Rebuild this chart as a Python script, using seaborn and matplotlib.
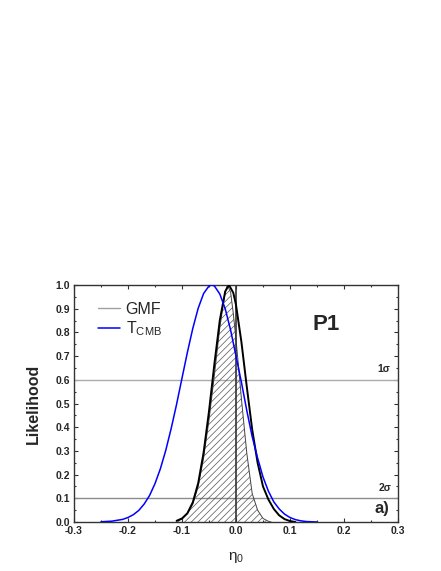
import matplotlib
matplotlib.use("Agg")
import matplotlib.pyplot as plt
from matplotlib.lines import Line2D
from matplotlib.ticker import MultipleLocator
import seaborn as sns
import pandas as pd

# curva GMF (area hachurada)
gmf_x = [-0.11, -0.10, -0.09, -0.08, -0.07, -0.06, -0.05, -0.04, -0.03, -0.02, -0.016,
         -0.01, -0.005, 0.0, 0.007, 0.01, 0.02, 0.03, 0.04, 0.05, 0.06, 0.065]
gmf_y = [0.004, 0.012, 0.035, 0.075, 0.15, 0.27, 0.43, 0.62, 0.82, 0.97, 1.0,
         0.97, 0.88, 0.77, 0.60, 0.52, 0.29, 0.12, 0.05, 0.015, 0.003, 0.0]

# curva preta
blk_x = [-0.11, -0.10, -0.09, -0.08, -0.07, -0.06, -0.05, -0.04, -0.03, -0.02, -0.013,
         -0.005, 0.0, 0.01, 0.02, 0.03, 0.04, 0.05, 0.06, 0.07, 0.08, 0.09, 0.10, 0.11]
blk_y = [0.005, 0.015, 0.037, 0.083, 0.164, 0.293, 0.467, 0.667, 0.851, 0.973, 1.0,
         0.967, 0.916, 0.76, 0.57, 0.39, 0.25, 0.15, 0.095, 0.055, 0.028, 0.012, 0.004, 0.0]

# curva T_CMB
tcmb_x = [-0.25, -0.23, -0.21, -0.20, -0.19, -0.18, -0.17, -0.16, -0.15, -0.14, -0.13,
          -0.12, -0.11, -0.10, -0.09, -0.08, -0.07, -0.06, -0.05, -0.045, -0.04, -0.03,
          -0.02, -0.01, 0.0, 0.01, 0.02, 0.03, 0.04, 0.05, 0.06, 0.07, 0.08, 0.09, 0.10,
          0.11, 0.12, 0.13, 0.14, 0.15]
tcmb_y = [0.001, 0.0035, 0.011, 0.019, 0.031, 0.049, 0.076, 0.112, 0.162, 0.225, 0.303,
          0.395, 0.497, 0.607, 0.716, 0.817, 0.902, 0.964, 0.996, 1.0, 0.996, 0.962,
          0.90, 0.81, 0.70, 0.59, 0.47, 0.36, 0.27, 0.19, 0.13, 0.085, 0.055, 0.033, 0.019,
          0.010, 0.005, 0.002, 0.001, 0.0]

niveis = [0.6, 0.1]
niveis_cor = ["#ababab", "#8c8c8c"]
niveis_txt = ["1σ", "2σ"]
x_ticks = [-0.3, -0.2, -0.1, 0.0, 0.1, 0.2, 0.3]
y_ticks = [0.0, 0.1, 0.2, 0.3, 0.4, 0.5, 0.6, 0.7, 0.8, 0.9, 1.0]

sns.set_theme(style="ticks")
plt.rcParams["font.family"] = ["Liberation Sans", "DejaVu Sans"]
plt.rcParams["axes.unicode_minus"] = False
plt.rcParams["hatch.linewidth"] = 0.5
plt.rcParams["hatch.color"] = "#555555"

fig = plt.figure(figsize=(4.41, 5.71), dpi=100)
ax = fig.add_axes([74 / 441, 49 / 571, 324 / 441, 237 / 571])

# niveis de confianca
for nv, cor in zip(niveis, niveis_cor):
    ax.axhline(nv, color=cor, lw=1.0, zorder=1)

# area hachurada GMF
ax.fill_between(gmf_x, gmf_y, 0, facecolor="none", edgecolor="#555555",
                hatch="/////", lw=0, zorder=2)
sns.lineplot(x=gmf_x, y=gmf_y, ax=ax, color="#444444", lw=0.7, sort=False, zorder=3)

# linha vertical em zero
ax.plot([0.0, 0.0], [0.0, 1.0], color="#333333", lw=1.2, zorder=3)

sns.lineplot(x=blk_x, y=blk_y, ax=ax, color="black", lw=1.4, sort=False, zorder=4)
sns.lineplot(x=tcmb_x, y=tcmb_y, ax=ax, color="#0000ff", lw=1.1, sort=False, zorder=5)

ax.set_xlim(-0.3, 0.3)
ax.set_ylim(0.0, 1.0)
ax.set_xticks(x_ticks)
ax.set_yticks(y_ticks)
ax.set_xticklabels([f"{t:.1f}" for t in x_ticks])
ax.set_yticklabels([f"{t:.1f}" for t in y_ticks])
ax.xaxis.set_minor_locator(MultipleLocator(0.05))
ax.yaxis.set_minor_locator(MultipleLocator(0.05))
ax.tick_params(which="both", direction="in", top=True, right=True, color="#333333", width=0.8)
ax.tick_params(which="major", length=3, labelsize=7.5, pad=3)
ax.tick_params(which="minor", length=1.6)
for lab in ax.get_xticklabels() + ax.get_yticklabels():
    lab.set_fontweight("bold")
for sp in ax.spines.values():
    sp.set_color("#333333")
    sp.set_linewidth(1.0)

ax.set_ylabel("Likelihood", fontsize=11.5, fontweight="bold", labelpad=10)
ax.set_xlabel(r"$\mathregular{η_0}$", fontsize=11, labelpad=10)

# textos
ax.text(0.167, 0.835, "P1", fontsize=16, fontweight="bold", ha="center", va="center")
ax.text(0.274, 0.647, niveis_txt[0], fontsize=7.5, fontweight="bold", ha="center", va="center")
ax.text(0.276, 0.143, niveis_txt[1], fontsize=7.5, fontweight="bold", ha="center", va="center")
ax.text(0.27, 0.058, "a)", fontsize=12, fontweight="bold", ha="center", va="center")

handles = [Line2D([], [], color="#a0a0a0", lw=1.0),
           Line2D([], [], color="#0000ff", lw=1.1)]
ax.legend(handles, ["GMF", r"$\mathregular{T_{CMB}}$"], loc="upper left",
          bbox_to_anchor=(0.073, 0.93), borderaxespad=0, borderpad=0,
          frameon=False, fontsize=11.5, handlelength=1.4, handletextpad=0.35,
          labelspacing=0.2)

fig.savefig("out.png", dpi=100)
